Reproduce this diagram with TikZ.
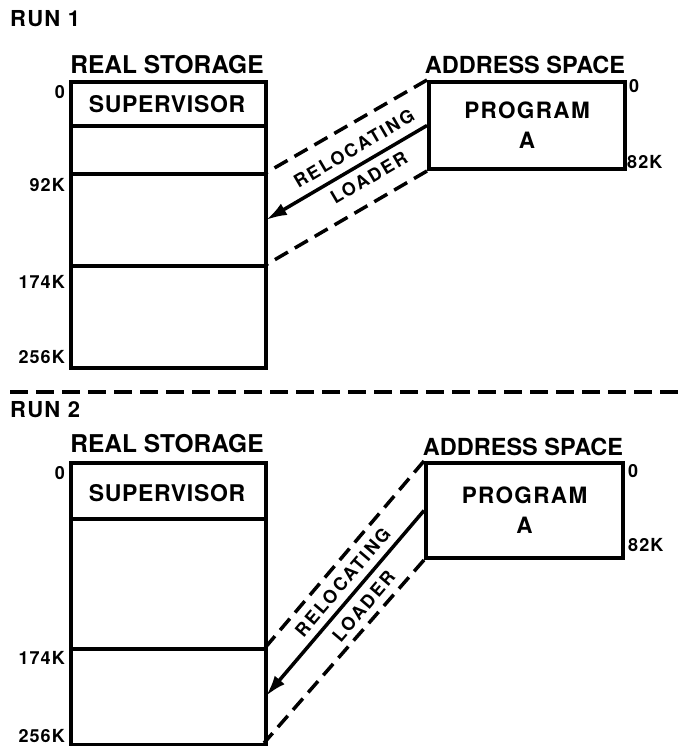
\documentclass[tikz,border=0pt]{standalone}
\usepackage{fontspec}
\setmainfont{TeX Gyre Heros}
\usetikzlibrary{arrows.meta}
\newcommand\fsz[2]{\fontsize{#1}{#2}\selectfont}
\newcommand\lsp[1]{\addfontfeatures{LetterSpace=#1}}
\begin{document}
\begin{tikzpicture}[x=1pt,y=-1pt,
 txt/.style={inner sep=0pt, font=\bfseries},
 title/.style={txt, font=\bfseries\fsz{24.5}{28}},
 titleb/.style={txt, font=\bfseries\fsz{23.5}{28}},
 runlbl/.style={txt, anchor=west, font=\bfseries\fsz{22}{26}\lsp{6}},
 addr/.style={txt, font=\bfseries\fsz{18}{21}\lsp{6}},
 supv/.style={txt, font=\bfseries\fsz{23}{26}\lsp{3}},
 progbox/.style={draw, line width=4pt, inner sep=0pt, anchor=north west,
   align=center, font=\bfseries\fsz{22.5}{30}\lsp{6}},
 storebox/.style={draw, line width=4pt, inner sep=0pt, anchor=north west},
 divline/.style={line width=3.5pt},
 dashln/.style={line width=3.5pt, dash pattern=on 15pt off 8pt},
 sepln/.style={line width=3.5pt, dash pattern=on 18pt off 8pt},
 loadarrow/.style={line width=3.5pt, -{Latex[length=21pt,width=13pt]}},
 along/.style={txt, sloped, font=\bfseries\fsz{18}{21}\lsp{12}},
]
\useasboundingbox (0,0) rectangle (680,746);

% ---------------- RUN 1 ----------------
\node[runlbl] (run1) at (10,19) {RUN 1};
\node[title] (rs1) at (167,65) {REAL STORAGE};
\node[titleb] (ad1) at (525,65) {ADDRESS SPACE};

\node[storebox, minimum width=195pt, minimum height=286pt] (st1) at (69,80) {};
\node[supv] (sup1) at (167,104) {SUPERVISOR};
\draw[divline] (69,126) -- (264,126);
\draw[divline] (69,174) -- (264,174);
\draw[divline] (69,266) -- (264,266);
\coordinate (s1a) at (264,174);
\coordinate (s1b) at (264,266);
\coordinate (s1c) at (266,220);

\node[addr, anchor=north east] (k1a) at (65,85) {0};
\node[addr, anchor=north east] (k1b) at (65,178) {92K};
\node[addr, anchor=north east] (k1c) at (65,275) {174K};
\node[addr, anchor=north east] (k1d) at (65,350) {256K};

\node[progbox, minimum width=196pt, minimum height=87pt] (as1) at (427,80) {PROGRAM\\A};
\node[addr, anchor=north west] (k1e) at (629,79) {0};
\node[addr, anchor=north west] (k1f) at (627,155) {82K};

\draw[dashln] (as1.north west) -- (s1a);
\draw[dashln] (as1.south west) -- (s1b);
\draw[loadarrow] (as1.west) --
  node[along, pos=0.40, above=8.5pt] (rl1) {RELOCATING}
  node[along, pos=0.41, below=7pt] (ld1) {LOADER} (s1c);

% ---------------- separator ----------------
\coordinate (sepL) at (10,392);
\coordinate (sepR) at (680,392);
\draw[sepln] (sepL) -- (sepR);

% ---------------- RUN 2 ----------------
\node[runlbl] (run2) at (10,410) {RUN 2};
\node[title] (rs2) at (167,444) {REAL STORAGE};
\node[titleb] (ad2) at (523,447) {ADDRESS SPACE};

\node[storebox, minimum width=195pt, minimum height=282pt] (st2) at (69,461) {};
\node[supv] (sup2) at (167,493) {SUPERVISOR};
\draw[divline] (69,519) -- (264,519);
\draw[divline] (69,649) -- (264,649);
\coordinate (s2a) at (264,649);
\coordinate (s2b) at (264,743);
\coordinate (s2c) at (266,696);

\node[addr, anchor=north east] (k2a) at (65,466) {0};
\node[addr, anchor=north east] (k2c) at (65,651) {174K};
\node[addr, anchor=north east] (k2d) at (65,729) {256K};

\node[progbox, minimum width=197pt, minimum height=95pt] (as2) at (424,461) {PROGRAM\\A};
\node[addr, anchor=north west] (k2e) at (628,464) {0};
\node[addr, anchor=north west] (k2f) at (628,538) {82K};

\draw[dashln] (as2.north west) -- (s2a);
\draw[dashln] (as2.south west) -- (s2b);
\draw[loadarrow] (as2.west) --
  node[along, pos=0.44, above=7pt] (rl2) {RELOCATING}
  node[along, pos=0.46, below=7.5pt] (ld2) {LOADER} (s2c);
\end{tikzpicture}
\end{document}
